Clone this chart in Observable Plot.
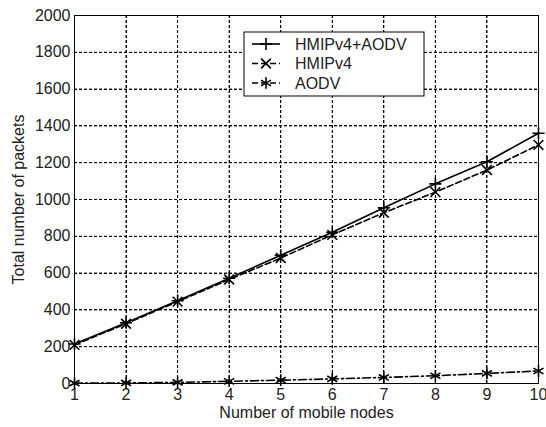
<!DOCTYPE html>
<html>
<head>
<meta charset="utf-8">
<script src="https://cdn.jsdelivr.net/npm/d3@7"></script>
<script src="https://cdn.jsdelivr.net/npm/@observablehq/plot@0.6"></script>
<style>
  body { margin: 0; background: #fff; }
  #chart { position: relative; width: 546px; height: 427px; }
  svg { font-family: "Liberation Sans", Arial, sans-serif; }
</style>
</head>
<body>
<div id="chart"></div>
<script>
const nodes = [1, 2, 3, 4, 5, 6, 7, 8, 9, 10];
const hmipAodv = [215, 330, 450, 572, 697, 822, 955, 1085, 1205, 1360];
const hmip = [210, 325, 445, 565, 682, 808, 928, 1040, 1160, 1297];
const aodv = [2, 3, 6, 12, 18, 25, 33, 42, 55, 68];
const seriesNames = ["HMIPv4+AODV", "HMIPv4", "AODV"];
const yTicks = [0, 200, 400, 600, 800, 1000, 1200, 1400, 1600, 1800, 2000];

const lineDash = {"HMIPv4+AODV": "none", "HMIPv4": "6,3", "AODV": "8,3,2,3"};
const markerSymbol = {"HMIPv4+AODV": "plus", "HMIPv4": "times", "AODV": "asterisk"};
const markerR = {"HMIPv4+AODV": 4, "HMIPv4": 4.5, "AODV": 5.5};
const seriesValues = [hmipAodv, hmip, aodv];
const rows = seriesNames.flatMap((s, i) => nodes.map((n, j) => ({series: s, x: n, y: seriesValues[i][j]})));

const marks = [
  Plot.ruleX(nodes, {stroke: "#000", strokeDasharray: "3,2"}),
  Plot.ruleY(yTicks, {stroke: "#000", strokeDasharray: "3,2"}),
  Plot.frame({stroke: "#000", strokeWidth: 1}),
  Plot.axisX(nodes, {tickSize: 0, tickPadding: 5, fontSize: 16, fill: "#222", tickFormat: "d",
    label: "Number of mobile nodes", labelAnchor: "center", labelOffset: 34, labelArrow: "none"}),
  Plot.axisY(yTicks, {tickSize: 0, tickPadding: 4, fontSize: 16, fill: "#222", tickFormat: "d",
    label: "Total number of packets", labelAnchor: "center", labelOffset: 62, labelArrow: "none"})
];
for (const s of seriesNames) {
  const d = rows.filter(e => e.series === s);
  marks.push(Plot.line(d, {x: "x", y: "y", stroke: "#000", strokeWidth: 1.6, strokeDasharray: lineDash[s]}));
  marks.push(Plot.dot(d, {x: "x", y: "y", symbol: markerSymbol[s], r: markerR[s], stroke: "#000", strokeWidth: 1.6, fill: "none"}));
}

const plot = Plot.plot({
  width: 546, height: 427, marginLeft: 74, marginRight: 8, marginTop: 15, marginBottom: 44,
  style: {fontSize: "16px", fontFamily: "'Liberation Sans', Arial, sans-serif", background: "#fff", color: "#222"},
  x: {domain: [1, 10], label: null},
  y: {domain: [0, 2000], label: null},
  marks
});
document.getElementById("chart").appendChild(plot);

const svg = d3.select(plot);
// Dotted grid, positioned through Plot's own scales
const xs = plot.scale("x"), ys = plot.scale("y");
const [x0, x1] = xs.range, [y0, y1] = ys.range;
const grid = svg.append("g").attr("stroke", "#000").attr("stroke-width", 1).attr("stroke-dasharray", "3,2").attr("fill", "none");
grid.selectAll("line.gx").data(nodes.slice(1, -1)).join("line").attr("class", "gx")
  .attr("x1", d => Math.round(xs.apply(d)) + 0.5).attr("x2", d => Math.round(xs.apply(d)) + 0.5)
  .attr("y1", Math.min(y0, y1)).attr("y2", Math.max(y0, y1));
grid.selectAll("line.gy").data(yTicks.slice(1, -1)).join("line").attr("class", "gy")
  .attr("y1", d => Math.round(ys.apply(d)) + 0.5).attr("y2", d => Math.round(ys.apply(d)) + 0.5)
  .attr("x1", Math.min(x0, x1)).attr("x2", Math.max(x0, x1));

// Legend box
const lg = svg.append("g").attr("transform", "translate(244,32)");
lg.append("rect").attr("width", 180).attr("height", 64).attr("fill", "#fff").attr("stroke", "#000").attr("stroke-width", 1);
const sym = {plus: d3.symbolPlus, times: d3.symbolTimes, asterisk: d3.symbolAsterisk};
seriesNames.forEach((s, i) => {
  const yy = 12 + i * 19.5;
  lg.append("line").attr("x1", 8).attr("x2", 36).attr("y1", yy).attr("y2", yy)
    .attr("stroke", "#000").attr("stroke-width", 1.6).attr("stroke-dasharray", i === 0 ? "none" : "6,3");
  lg.append("path").attr("transform", `translate(22,${yy})`)
    .attr("d", d3.symbol(sym[markerSymbol[s]], Math.PI * markerR[s] * markerR[s])())
    .attr("stroke", "#000").attr("stroke-width", 1.6).attr("fill", "none");
  lg.append("text").attr("x", 51).attr("y", yy).attr("dy", "0.35em").attr("text-anchor", "start")
    .attr("font-size", 16).attr("fill", "#222").text(s);
});
</script>
</body>
</html>
